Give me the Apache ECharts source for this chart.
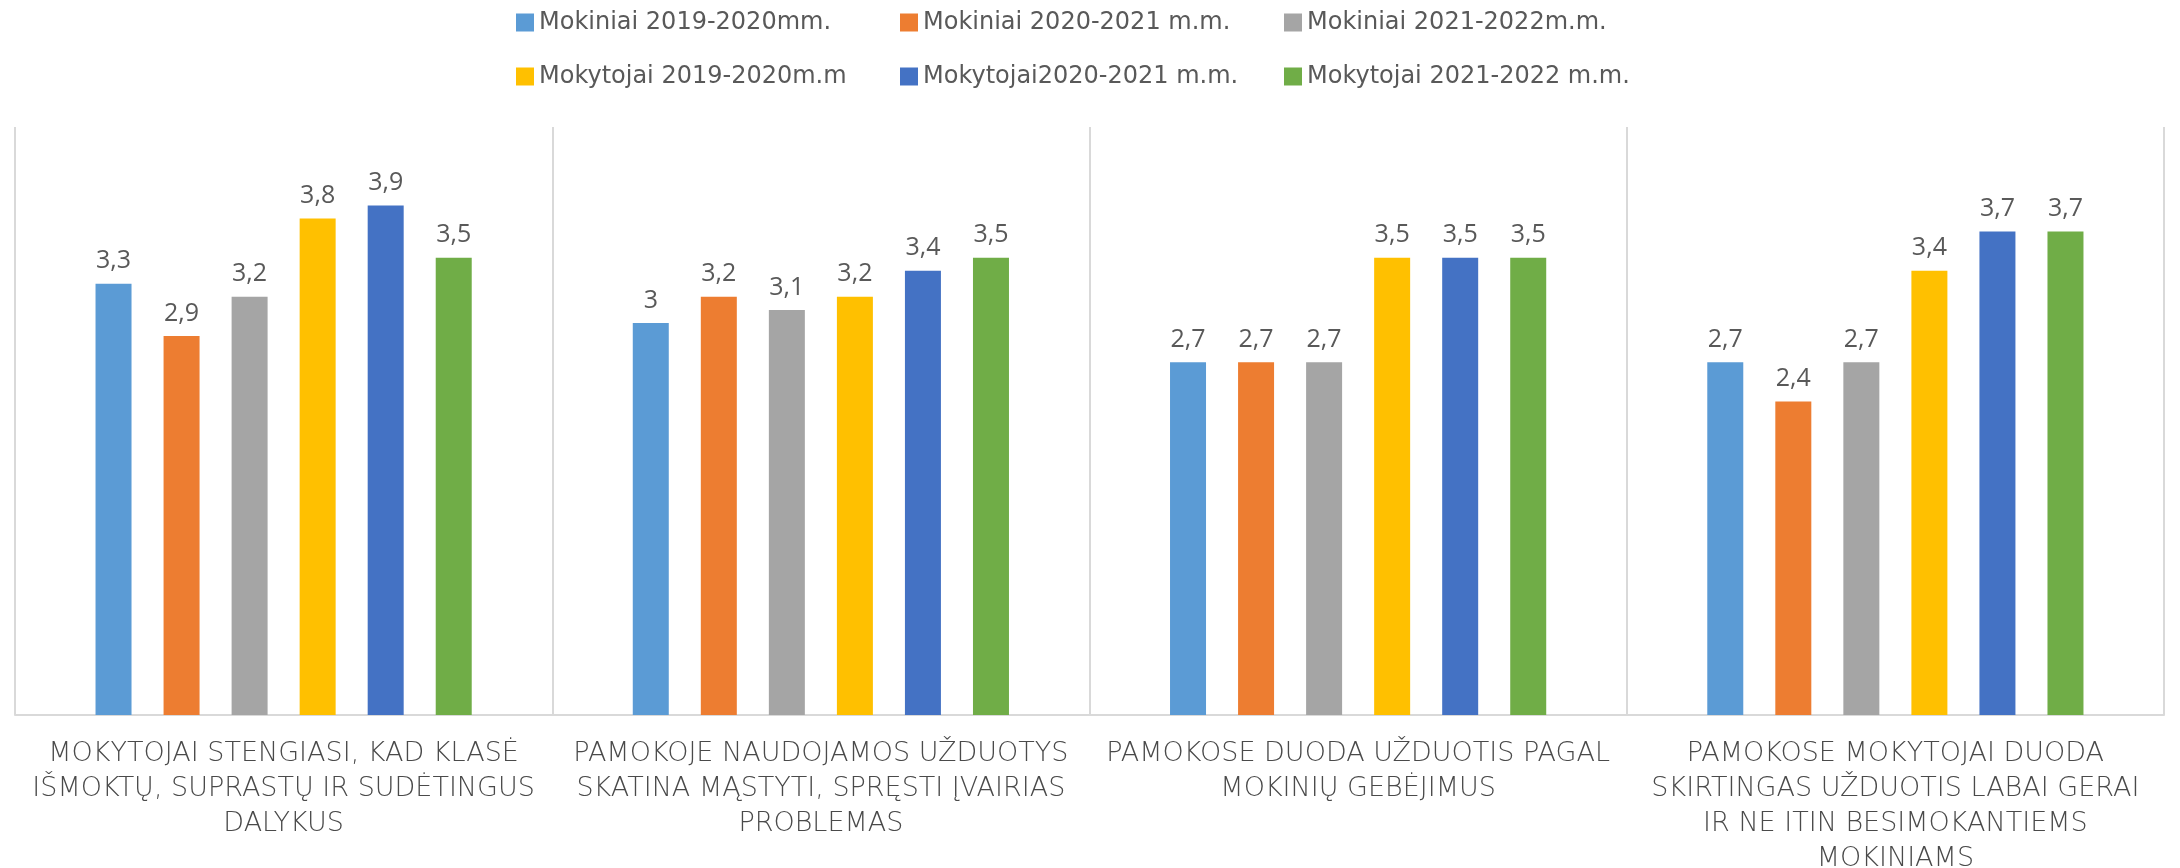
<!DOCTYPE html>
<html>
<head>
<meta charset="utf-8">
<script src="https://cdn.jsdelivr.net/npm/echarts@6/dist/echarts.min.js"></script>
<style>
  html, body { margin: 0; padding: 0; background: #fff; }
  #chart { width: 2180px; height: 868px; }
</style>
</head>
<body>
<div id="chart"></div>
<script>
const categories = [
  "MOKYTOJAI STENGIASI, KAD KLASĖ\nIŠMOKTŲ, SUPRASTŲ IR SUDĖTINGUS\nDALYKUS",
  "PAMOKOJE NAUDOJAMOS UŽDUOTYS\nSKATINA MĄSTYTI, SPRĘSTI ĮVAIRIAS\nPROBLEMAS",
  "PAMOKOSE DUODA UŽDUOTIS PAGAL\nMOKINIŲ GEBĖJIMUS",
  "PAMOKOSE MOKYTOJAI DUODA\nSKIRTINGAS UŽDUOTIS LABAI GERAI\nIR NE ITIN BESIMOKANTIEMS\nMOKINIAMS"
];
const seriesNames = [
  "Mokiniai 2019-2020mm.",
  "Mokiniai 2020-2021 m.m.",
  "Mokiniai 2021-2022m.m.",
  "Mokytojai 2019-2020m.m",
  "Mokytojai2020-2021 m.m.",
  "Mokytojai 2021-2022 m.m."
];
const mokiniai1920 = [3.3, 3, 2.7, 2.7];
const mokiniai2021 = [2.9, 3.2, 2.7, 2.4];
const mokiniai2122 = [3.2, 3.1, 2.7, 2.7];
const mokytojai1920 = [3.8, 3.2, 3.5, 3.4];
const mokytojai2021 = [3.9, 3.4, 3.5, 3.7];
const mokytojai2122 = [3.5, 3.5, 3.5, 3.7];

const seriesData = [mokiniai1920, mokiniai2021, mokiniai2122, mokytojai1920, mokytojai2021, mokytojai2122];
const colors = ["#5B9BD5", "#ED7D31", "#A5A5A5", "#FFC000", "#4472C4", "#70AD47"];

const chart = echarts.init(document.getElementById("chart"));
const option = {
  animation: false,
  color: colors,
  legend: {
    left: 511,
    top: 2,
    width: 1170,
    itemWidth: 18,
    itemHeight: 18,
    itemGap: 23,
    icon: "rect",
    formatter: name => "{a|" + name + "}",
    textStyle: {
      color: "#595959",
      lineHeight: 31,
      rich: {
        a: {
          width: 338,
          height: 31,
          fontFamily: "DejaVu Sans",
          fontSize: 24,
          lineHeight: 31,
          color: "#595959"
        }
      }
    },
    data: seriesNames
  },
  grid: {
    left: 15,
    right: 16,
    top: 127,
    bottom: 153,
    outerBoundsMode: "none"
  },
  xAxis: {
    type: "category",
    data: categories,
    axisTick: { show: false },
    axisLine: { lineStyle: { color: "#D9D9D9", width: 2 } },
    splitLine: { show: true, lineStyle: { color: "#D9D9D9", width: 2 } },
    axisLabel: {
      interval: 0,
      margin: 21,
      fontFamily: "DejaVu Sans",
      fontWeight: 200,
      fontSize: 27,
      lineHeight: 35,
      color: "#4a4a4a"
    }
  },
  yAxis: {
    type: "value",
    min: 0,
    max: 4.5,
    show: false
  },
  series: seriesData.map((data, i) => ({
    name: seriesNames[i],
    type: "bar",
    data: data,
    barWidth: 36,
    barGap: "89%",
    label: {
      show: true,
      position: "top",
      distance: 10,
      fontFamily: "Open Sans",
      fontSize: 25,
      color: "#595959",
      formatter: p => String(p.value).replace(".", ",")
    }
  }))
};
chart.setOption(option);
</script>
</body>
</html>
